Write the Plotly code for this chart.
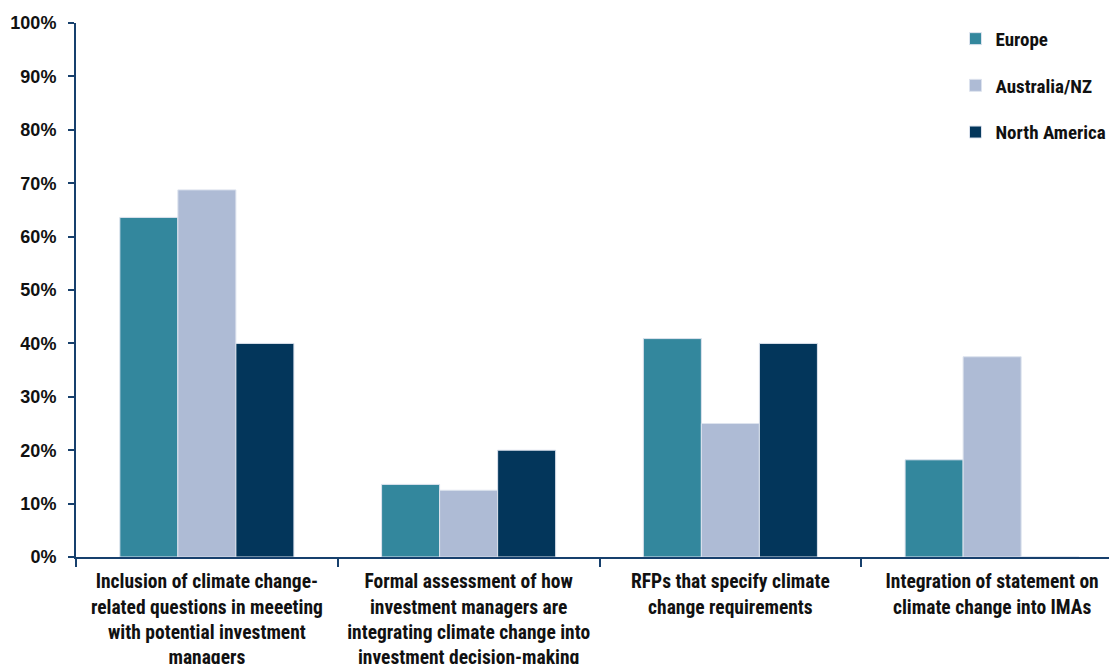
import plotly.graph_objects as go

# categories (x axis) and series values in %
categories = [
    "Inclusion of climate change-<br>related questions in meeeting<br>with potential investment<br>managers",
    "Formal assessment of how<br>investment managers are<br>integrating climate change into<br>investment decision-making",
    "RFPs that specify climate<br>change requirements",
    "Integration of statement on<br>climate change into IMAs",
]
europe = [63.6, 13.6, 40.9, 18.2]
australia_nz = [68.75, 12.5, 25.0, 37.5]
north_america = [40.0, 20.0, 40.0, 0.0]

series_names = ["Europe", "Australia/NZ", "North America"]
series_values = [europe, australia_nz, north_america]
series_colors = ["#33879D", "#AEBBD5", "#03365B"]

axis_color = "#17406D"
narrow = "Roboto Condensed"

fig = go.Figure()
for name, vals, col in zip(series_names, series_values, series_colors):
    fig.add_trace(go.Bar(
        name=name, x=categories, y=vals, legendgroup=name,
        marker=dict(color=col, line=dict(color="#DDE3EE", width=1)),
    ))

# page body adds 8px offset, so margins are a bit smaller than the picture offsets
fig.update_layout(
    width=1117, height=664,
    barmode="group", bargap=0.335, bargroupgap=0,
    margin=dict(l=68, r=2, t=15, b=115),
    paper_bgcolor="white", plot_bgcolor="white",
    font=dict(family="Liberation Sans", color="#111111"),
    legend=dict(
        x=0.84, xanchor="left", y=1.006, yanchor="top",
        font=dict(family=narrow, size=19, weight="bold", color="#111111"),
        tracegroupgap=19, bgcolor="rgba(0,0,0,0)",
    ),
    xaxis=dict(
        range=[-0.5, 3.5], automargin=False,
        showline=True, linecolor=axis_color, linewidth=2,
        ticks="outside", tickson="boundaries", ticklen=8, tickcolor=axis_color, tickwidth=2,
        tickfont=dict(family=narrow, size=19.5, weight="bold", color="#111111"),
        ticklabelstandoff=6, tickangle=0, showgrid=False,
    ),
    yaxis=dict(
        range=[0, 100], dtick=10, ticksuffix="%", automargin=False,
        showline=True, linecolor=axis_color, linewidth=2,
        ticks="outside", ticklen=6, tickcolor=axis_color, tickwidth=2,
        tickfont=dict(family="Liberation Sans", size=18, weight="bold", color="#111111"),
        ticklabelstandoff=8, showgrid=False, zeroline=False,
    ),
)

fig.write_html("out.html")
